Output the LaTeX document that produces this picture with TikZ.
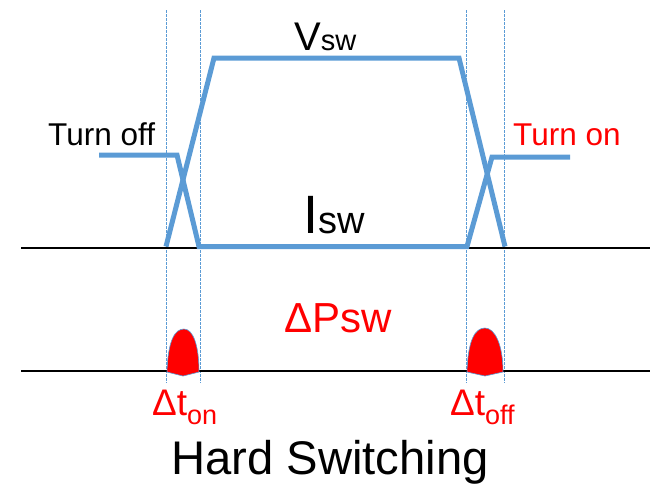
\documentclass[tikz,border=0pt]{standalone}
\usepackage{fontspec}
\setmainfont{Liberation Sans}
\definecolor{wave}{RGB}{91,155,213}
\definecolor{pred}{RGB}{255,0,0}
\begin{document}
\begin{tikzpicture}[x=1pt,y=-1pt,
  wavestyle/.style={draw=wave,line width=5pt,line join=miter},
  guide/.style={draw=wave,line width=0.9pt,dash pattern=on 2.5pt off 1.5pt},
  axis/.style={draw=black,line width=1.6pt},
  hump/.style={fill=pred,draw=wave,line width=0.6pt},
  lbl/.style={inner sep=0pt,anchor=base west}]
\useasboundingbox (0,0) rectangle (654,485);
% guides
\foreach \n/\x in {a/166,b/200,c/466,d/504}{
  \coordinate (\n top) at (\x,10);
  \coordinate (\n bot) at (\x,383);
  \draw[guide] (\n top) -- (\n bot);
}
% axes
\coordinate (ax1l) at (21,248); \coordinate (ax1r) at (650,248);
\coordinate (ax2l) at (21,371); \coordinate (ax2r) at (650,371);
\draw[axis,line width=1.3pt] (ax1l) -- (ax1r);
\draw[axis,line width=2pt] (ax2l) -- (ax2r);
% current waveform
\coordinate (i0) at (99,155); \coordinate (i1) at (177,155);
\coordinate (i2) at (199,246.5); \coordinate (i3) at (467,246.5);
\coordinate (i4) at (492,157); \coordinate (i5) at (570,157);
\draw[wavestyle] (i0) -- (i1) -- (i2) -- (i3) -- (i4) -- (i5);
% voltage waveform
\coordinate (v0) at (166,246.5); \coordinate (v1) at (214,58);
\coordinate (v2) at (459,58); \coordinate (v3) at (505,246.5);
\draw[wavestyle] (v0) -- (v1) -- (v2) -- (v3);
% loss humps
\draw[hump] (167,372) .. controls (168,340) and (175,329) .. (184,329)
  .. controls (193,329) and (199,345) .. (199,372) -- (183,376) -- cycle;
\draw[hump] (467,372) .. controls (468,340) and (475,328) .. (485,328)
  .. controls (495,328) and (503,345) .. (503,372) -- (485,376) -- cycle;
% labels
\node[lbl] (vsw) at (294,50) {\fontsize{40}{40}\selectfont V\fontsize{29}{29}\selectfont sw};
\node[lbl] (isw) at (303,233) {\fontsize{54}{54}\selectfont I\fontsize{38}{38}\selectfont sw};
\node[lbl] (toff) at (48,145) {\fontsize{31.5}{30}\selectfont Turn off};
\node[lbl,text=pred] (ton) at (513,145) {\fontsize{31.5}{30}\selectfont Turn on};
\node[lbl,text=pred] (dp) at (284,332) {\fontsize{42}{42}\selectfont ΔPsw};
\node[lbl,text=pred] (dton) at (152,415) {\fontsize{37}{37}\selectfont Δt\raisebox{-9pt}{\fontsize{27}{27}\selectfont on}};
\node[lbl,text=pred] (dtoff) at (450,415) {\fontsize{37}{37}\selectfont Δt\raisebox{-9pt}{\fontsize{27}{27}\selectfont off}};
\node[lbl] (hs) at (171,474) {\fontsize{47.2}{47}\selectfont Hard Switching};
\end{tikzpicture}
\end{document}
